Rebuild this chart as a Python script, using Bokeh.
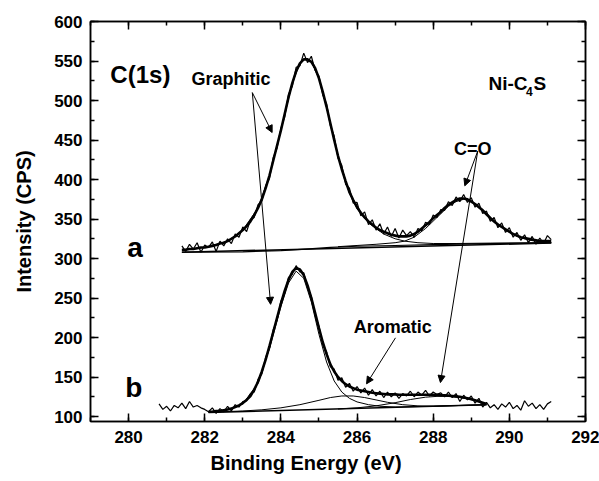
import numpy as np
from bokeh.plotting import figure
from bokeh.models import (Range1d, SingleIntervalTicker, LinearAxis, Arrow, NormalHead,
                          Title, CustomJSTickFormatter)
from bokeh.core.properties import value
from bokeh.embed import file_html
from bokeh.resources import INLINE

FONT = "Liberation Sans"

# ---------------- Spectrum a (upper) ----------------
a_start = 281.4
a_data = [316, 309, 318, 312, 320, 308, 317, 314, 321, 309, 322, 316, 325, 319, 331, 327,
          340, 334, 349, 352, 368, 373, 392, 401, 428, 440, 465, 479, 508, 518, 542, 544,
          560, 548, 556, 538, 531, 507, 496, 468, 455, 427, 418, 394, 389, 370, 371, 354,
          359, 343, 349, 336, 344, 331, 340, 328, 338, 326, 336, 329, 334, 327, 338, 335,
          346, 343, 355, 352, 362, 361, 372, 367, 378, 372, 381, 371, 377, 365, 370, 357,
          360, 347, 352, 339, 345, 333, 339, 327, 333, 323, 330, 320, 328, 318, 326, 319,
          329, 324]
a_env = [311, 311, 312, 312, 313, 314, 314, 315, 316, 317, 319, 320, 322, 325, 328, 332,
         336, 341, 347, 355, 364, 375, 389, 405, 424, 443, 462, 483, 504, 522, 537, 547,
         552, 552, 549, 541, 528, 511, 492, 471, 450, 430, 413, 398, 384, 374, 365, 358,
         352, 347, 343, 339, 336, 334, 332, 330, 329, 328, 328, 328, 329, 331, 334, 338,
         342, 346, 351, 355, 359, 364, 368, 371, 374, 376, 376, 375, 372, 369, 365, 361,
         356, 351, 347, 343, 340, 337, 334, 331, 329, 327, 326, 325, 324, 323, 322, 322,
         322, 322]
a_graph_x = [281.4, 282.0, 282.6, 283.0, 283.4, 283.7, 284.0, 284.3, 284.5, 284.65, 284.8,
             285.0, 285.2, 285.5, 285.8, 286.0, 286.3, 286.7, 287.0, 287.25, 287.6, 288.0,
             288.6, 289.5, 291.1]
a_graph_y = [311, 314, 322, 336, 364, 405, 462, 522, 547, 553, 549, 528, 492, 430, 383, 363,
             345, 331, 325, 322, 320, 319, 319, 319.5, 320]
a_co_x = [285.5, 286.0, 286.5, 287.0, 287.25, 287.5, 287.8, 288.1, 288.4, 288.6, 288.8, 289.0,
          289.3, 289.6, 289.9, 290.2, 290.5, 290.8, 291.1]
a_co_y = [315, 316.5, 318, 320, 322, 327, 338, 352, 366, 372, 375, 373, 362, 348, 336, 328,
          323.5, 321, 320]
a_bg1_x = [281.4, 291.1]
a_bg1_y = [308, 319.5]
a_bg2_x = [281.4, 283.0, 284.0, 284.65, 285.3, 286.0, 287.0, 288.0, 289.0, 291.1]
a_bg2_y = [308, 308.5, 310, 312, 314, 315.5, 316.5, 317.5, 318.5, 320]

# ---------------- Spectrum b (lower) ----------------
b_start = 280.8
b_data = [116, 109, 113, 107, 114, 111, 117, 110, 119, 112, 114, 111, 109, 106, 111, 104,
          110, 106, 113, 107, 115, 112, 119, 120, 129, 131, 147, 154, 175, 186, 210, 222,
          246, 256, 276, 280, 291, 283, 282, 263, 252, 228, 214, 191, 182, 163, 160, 146,
          149, 137, 142, 132, 138, 130, 136, 127, 134, 126, 132, 124, 131, 125, 130, 123,
          129, 126, 132, 125, 131, 127, 133, 126, 131, 128, 130, 125, 131, 124, 129, 119,
          127, 121, 126, 117, 123, 112, 118, 111, 115, 109, 116, 112, 118, 110, 114, 108,
          120, 113, 117, 110, 115, 109, 116, 119]
b_env_start = 282.1
b_env = [106, 106, 107, 107, 108, 109, 110, 112, 114, 117, 121, 126, 134, 144, 157, 172,
         189, 207, 225, 243, 259, 273, 283, 288, 286, 279, 266, 250, 231, 212, 194, 179,
         166, 157, 150, 145, 141, 138, 136, 134, 133, 132, 131, 130, 129.5, 129, 128.5, 128,
         128, 128, 127.5, 127.5, 127.5, 127.5, 127.5, 127.5, 127.5, 127.5, 127.5, 127.5,
         127.5, 127, 127, 126.5, 126, 125.5, 125, 124, 123, 122, 120.5, 119, 117.5, 116]
b_graph_x = [282.1, 282.6, 283.0, 283.4, 283.7, 284.0, 284.2, 284.4, 284.6, 284.8, 285.0,
             285.2, 285.4, 285.6, 285.8, 286.0, 286.3, 286.6, 287.0, 287.5, 288.0, 289.4]
b_graph_y = [106, 108.5, 116, 142, 186, 239, 269, 284, 275, 245, 204, 169, 145, 131, 123,
             118.5, 115, 113, 112, 112.5, 113, 115]
b_arom_x = [282.1, 283.0, 283.5, 284.0, 284.5, 285.0, 285.3, 285.6, 285.9, 286.2, 286.5,
            286.8, 287.2, 287.6, 288.0, 289.4]
b_arom_y = [105.5, 107, 108.5, 111, 115, 120.5, 124, 126, 126, 124, 121, 118, 115, 113.5,
            113, 115]
b_co_x = [285.5, 286.0, 286.5, 287.0, 287.4, 287.8, 288.1, 288.4, 288.7, 289.0, 289.2, 289.4]
b_co_y = [109.5, 111, 113.5, 117.5, 121.5, 124.5, 125.5, 125.5, 124, 121.5, 119, 116]
b_bg_x = [282.1, 289.4]
b_bg_y = [105, 115]

x_ticks = [280, 282, 284, 286, 288, 290, 292]
y_ticks = [100, 150, 200, 250, 300, 350, 400, 450, 500, 550, 600]

step = 0.1
a_x = a_start + step * np.arange(len(a_data))
a_env_x = a_start + step * np.arange(len(a_env))
b_x = b_start + step * np.arange(len(b_data))
b_env_x = b_env_start + step * np.arange(len(b_env))

p = figure(frame_width=495, frame_height=400, x_range=Range1d(279, 292),
           y_range=Range1d(93.7, 600), output_backend="svg", toolbar_location=None,
           min_border_left=90, min_border_right=14, min_border_top=21, min_border_bottom=0,
           background_fill_color="white", border_fill_color="white")
p.xgrid.visible = False
p.ygrid.visible = False
p.outline_line_color = "black"
p.outline_line_width = 1.5


def style_axis(ax, labels=True):
    ax.axis_line_color = "black"
    ax.axis_line_width = 1.5
    ax.major_tick_in = 8
    ax.major_tick_out = 0
    ax.minor_tick_in = 4
    ax.minor_tick_out = 0
    ax.major_tick_line_width = 1.5
    ax.minor_tick_line_width = 1.5
    ax.major_tick_line_color = "black"
    ax.minor_tick_line_color = "black"
    ax.major_label_text_font = FONT
    ax.major_label_text_font_style = "bold"
    ax.major_label_text_font_size = "17px"
    ax.major_label_text_color = "black"
    if not labels:
        ax.formatter = CustomJSTickFormatter(code="return ''")


p.xaxis.ticker = SingleIntervalTicker(interval=2, num_minor_ticks=2)
p.yaxis.ticker = SingleIntervalTicker(interval=50, num_minor_ticks=2)
for ax in p.xaxis:
    style_axis(ax)
    ax.major_label_standoff = 9
for ax in p.yaxis:
    style_axis(ax)
    ax.major_label_standoff = 8
    ax.axis_label = "Intensity (CPS)"
    ax.axis_label_text_font = FONT
    ax.axis_label_text_font_style = "bold"
    ax.axis_label_text_font_size = "20px"
    ax.axis_label_text_color = "black"
    ax.axis_label_standoff = 16

top_ax = LinearAxis(ticker=SingleIntervalTicker(interval=2, num_minor_ticks=2))
style_axis(top_ax, labels=False)
p.add_layout(top_ax, "above")
right_ax = LinearAxis(ticker=SingleIntervalTicker(interval=50, num_minor_ticks=2))
style_axis(right_ax, labels=False)
p.add_layout(right_ax, "right")

# x-axis title (offset to the left as in the reference)
p.add_layout(Title(text="Binding Energy (eV)", align="left", offset=120,
                   text_font=FONT, text_font_style="bold", text_font_size="20px",
                   text_color="black", standoff=9), "below")

# components and backgrounds
for xs, ys, w in [(a_graph_x, a_graph_y, 1.0), (a_co_x, a_co_y, 1.0),
                  (a_bg1_x, a_bg1_y, 1.5), (a_bg2_x, a_bg2_y, 1.2),
                  (b_graph_x, b_graph_y, 1.0), (b_arom_x, b_arom_y, 1.0),
                  (b_co_x, b_co_y, 1.0), (b_bg_x, b_bg_y, 1.5)]:
    p.line(xs, ys, line_color="black", line_width=w)

# raw data
p.line(a_x, a_data, line_color="black", line_width=1.2)
p.line(b_x, b_data, line_color="black", line_width=1.2)
# envelopes
p.line(a_env_x, a_env, line_color="black", line_width=2.6)
p.line(b_env_x, b_env, line_color="black", line_width=2.6)

# arrows
arrows = [((283.25, 510), (283.77, 459.5)), ((283.25, 510), (283.73, 242)),
          ((289.17, 436), (288.83, 392)), ((289.17, 436), (288.19, 143)),
          ((287.01, 199.6), (286.25, 141.4))]
for (x0, y0), (x1, y1) in arrows:
    p.add_layout(Arrow(end=NormalHead(size=7, fill_color="black", line_color="black",
                                      line_width=1),
                       x_start=x0, y_start=y0, x_end=x1, y_end=y1,
                       line_color="black", line_width=1))


def txt(x, y, t, size, align="center"):
    p.text(x=[x], y=[y], text=[t], text_font=value(FONT), text_font_style="bold",
           text_font_size=size, text_align=align, text_baseline="alphabetic",
           text_color="black")


txt(280.31, 533, "C(1s)", "24px")
txt(282.69, 527, "Graphitic", "18px")
txt(289.04, 438.5, "C=O", "18px")
txt(286.94, 213.5, "Aromatic", "18px")
txt(280.17, 314, "a", "28px")
txt(280.14, 136.7, "b", "28px")
txt(289.452, 521.5, "Ni-C", "19px", align="left")
txt(290.437, 512, "4", "12px", align="left")
txt(290.633, 521.5, "S", "19px", align="left")

open("out.html", "w").write(file_html(p, INLINE))
